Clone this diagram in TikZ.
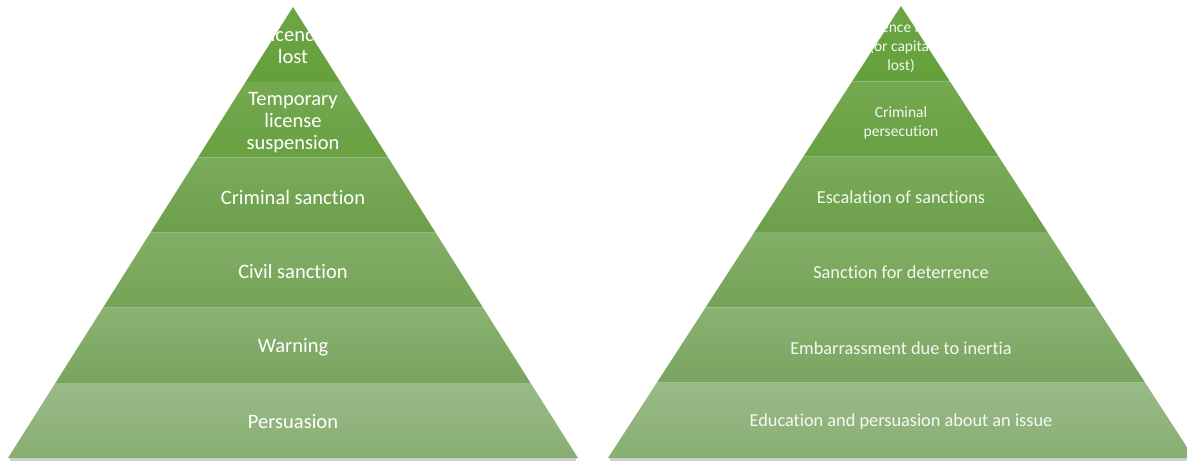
\documentclass[tikz,border=0pt]{standalone}
\usepackage{fontspec}
\usepackage{tikz}
\usetikzlibrary{positioning}
\newfontfamily\tierfont{Carlito}[Ligatures=NoCommon]

% tier fills, top to bottom, each with a lighter upper and a darker lower tone
\definecolor{tierAup}{HTML}{6DA645}
\definecolor{tierAdn}{HTML}{64A03C}
\definecolor{tierBup}{HTML}{75A950}
\definecolor{tierBdn}{HTML}{68A042}
\definecolor{tierCup}{HTML}{7AAB59}
\definecolor{tierCdn}{HTML}{6C9F4B}
\definecolor{tierDup}{HTML}{83AF67}
\definecolor{tierDdn}{HTML}{74A356}
\definecolor{tierEup}{HTML}{8AB272}
\definecolor{tierEdn}{HTML}{79A45F}
\definecolor{tierFup}{HTML}{99BB87}
\definecolor{tierFdn}{HTML}{88AE73}

\begin{document}
\begin{tikzpicture}[x=1pt,y=-1pt,
  lbl/.style={text=white, align=center, inner sep=0pt,
              font=\tierfont\fontsize{20.5}{22}\selectfont},
  lblr/.style={text=white, text opacity=0.92, align=center, inner sep=0pt,
               font=\tierfont\fontsize{18.3}{20}\selectfont},
  lblrs/.style={lblr, font=\tierfont\fontsize{15.5}{19}\selectfont},
  baseshadow/.style={draw=black!18, line width=2.5pt}
]
\fill[white] (0,0) rectangle (1187,463);
\useasboundingbox (0,0) rectangle (1187,463);

% two pyramids: apex x / apex y / half base width, base at y=458
\foreach \cx/\ay/\hw in {293/7/285, 901/6/293} {
  \draw[baseshadow] (\cx-\hw+2,459.5) -- (\cx+\hw-2,459.5);
  \foreach \i/\cu/\cd in {0/tierAup/tierAdn, 1/tierBup/tierBdn, 2/tierCup/tierCdn,
                          3/tierDup/tierDdn, 4/tierEup/tierEdn, 5/tierFup/tierFdn} {
    \pgfmathsetmacro\ya{\ay+(458-\ay)*\i/6}
    \pgfmathsetmacro\yb{\ay+(458-\ay)*(\i+1)/6}
    \pgfmathsetmacro\wa{\hw*\i/6}
    \pgfmathsetmacro\wb{\hw*(\i+1)/6}
    \shade[top color=\cu, bottom color=\cd]
      (\cx-\wa,\ya) -- (\cx+\wa,\ya) -- (\cx+\wb,\yb) -- (\cx-\wb,\yb) -- cycle;
  }
}

% left pyramid labels
\node[lbl] (lic)   at (293,46)  {Licence\\lost};
\node[lbl] (temp)  at (293,123) {Temporary\\license\\suspension};
\node[lbl] (crim)  at (293,197) {Criminal sanction};
\node[lbl] (civ)   at (293,271) {Civil sanction};
\node[lbl] (warn)  at (293,347) {Warning};
\node[lbl] (pers)  at (293,422) {Persuasion};

% right pyramid labels
\node[lblrs] (licr)  at (901,47)  {Licence lost\\(or capital\\lost)};
\node[lblrs] (pros)  at (901,123) {Criminal\\persecution};
\node[lblr]  (esc)   at (901,197) {Escalation of sanctions};
\node[lblr]  (deter) at (901,272) {Sanction for deterrence};
\node[lblr]  (emb)   at (901,348) {Embarrassment due to inertia};
\node[lblr]  (edu)   at (901,422) {Education and persuasion about an issue};
\end{tikzpicture}
\end{document}
